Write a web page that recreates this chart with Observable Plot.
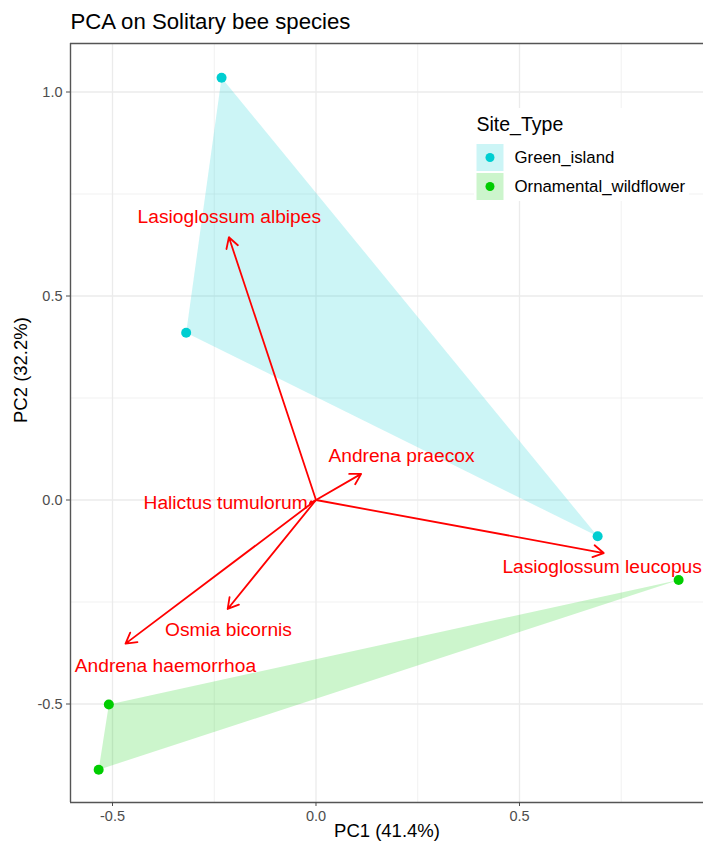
<!DOCTYPE html>
<html>
<head>
<meta charset="utf-8">
<script src="https://cdn.jsdelivr.net/npm/d3@7"></script>
<script src="https://cdn.jsdelivr.net/npm/@observablehq/plot@0.6"></script>
<style>
  html, body { margin: 0; padding: 0; background: #fff; }
  #chart { position: relative; width: 703px; height: 845px; overflow: hidden; }
  svg { font-family: "Liberation Sans", Arial, sans-serif; }
</style>
</head>
<body>
<div id="chart"></div>
<script>
// Site scores on the first two principal components
const siteTypes = ["Green_island", "Ornamental_wildflower"];
const siteColors = ["#00CED1", "#00CD00"];
const siteGroup = ["Green_island", "Green_island", "Green_island",
                   "Ornamental_wildflower", "Ornamental_wildflower", "Ornamental_wildflower"];
const sitePC1 = [-0.232, -0.319, 0.692, 0.891, -0.509, -0.534];
const sitePC2 = [1.035, 0.410, -0.089, -0.196, -0.501, -0.661];

// Species loadings (arrow tips) and where their names sit
const species = ["Lasioglossum albipes", "Andrena praecox", "Halictus tumulorum",
                 "Osmia bicornis", "Andrena haemorrhoa", "Lasioglossum leucopus"];
const loadPC1 = [-0.214, 0.111, -0.015, -0.217, -0.468, 0.707];
const loadPC2 = [0.644, 0.064, -0.008, -0.267, -0.352, -0.130];
const labelPC1 = [-0.213, 0.210, -0.222, -0.215, -0.370, 0.703];
const labelPC2 = [0.695, 0.109, -0.008, -0.317, -0.406, -0.165];

// Axis ticks and gridlines
const xMajor = [-0.5, 0, 0.5];
const xMinor = [-0.25, 0.25, 0.75];
const yMajor = [-0.5, 0, 0.5, 1.0];
const yMinor = [-0.25, 0.25, 0.75];

const title = "PCA on Solitary bee species";
const xTitle = "PC1 (41.4%)";
const yTitle = "PC2 (32.2%)";
const legendTitle = "Site_Type";

const sites = sitePC1.map((x, i) => ({x, y: sitePC2[i], group: siteGroup[i]}));
const loadings = species.map((name, i) => ({
  name, x: loadPC1[i], y: loadPC2[i], lx: labelPC1[i], ly: labelPC2[i]
}));

const W = 703, H = 845;
const mL = 70, mR = 0, mT = 43, mB = 43;
// one data unit spans ~407px on both axes
const xDomain = [-0.6032, 0.9521];
const yDomain = [-0.7414, 1.1189];
const fmt = d => d.toFixed(1);

const plot = Plot.plot({
  width: W, height: H,
  marginLeft: mL, marginRight: mR, marginTop: mT, marginBottom: mB,
  x: {domain: xDomain},
  y: {domain: yDomain},
  color: {domain: siteTypes, range: siteColors},
  style: {fontFamily: '"Liberation Sans", Arial, sans-serif', background: "#fff"},
  marks: [
    // panel grid
    Plot.ruleX(xMinor, {stroke: "#ebebeb", strokeWidth: 0.7}),
    Plot.ruleY(yMinor, {stroke: "#ebebeb", strokeWidth: 0.7}),
    Plot.ruleX(xMajor, {stroke: "#ebebeb", strokeWidth: 1.3}),
    Plot.ruleY(yMajor, {stroke: "#ebebeb", strokeWidth: 1.3}),
    // convex hull per site type
    Plot.hull(sites, {x: "x", y: "y", fill: "group", fillOpacity: 0.2, stroke: "none"}),
    // site points
    Plot.dot(sites, {x: "x", y: "y", fill: "group", r: 5, stroke: "none"}),
    // species loading arrows
    Plot.arrow(loadings, {
      x1: () => 0, y1: () => 0, x2: "x", y2: "y",
      stroke: "#ff0000", strokeWidth: 1.8, headLength: 10, headAngle: 60
    }),
    Plot.text(loadings, {x: "lx", y: "ly", text: "name", fill: "#ff0000", fontSize: 19.2}),
    // panel border (left, top, bottom)
    Plot.ruleX([xDomain[0]], {stroke: "#555", strokeWidth: 1.4}),
    Plot.ruleY([yDomain[0], yDomain[1]], {stroke: "#555", strokeWidth: 1.4}),
    // axes
    Plot.axisX(xMajor, {tickFormat: fmt, tickSize: 4, tickPadding: 4, fontSize: 14.5,
      color: "#4d4d4d", label: null}),
    Plot.axisY(yMajor, {tickFormat: fmt, tickSize: 4, tickPadding: 4, fontSize: 14.5,
      color: "#4d4d4d", label: null}),
    // titles
    Plot.text([xTitle], {frameAnchor: "bottom", dy: 34, fontSize: 18.5, fill: "#000"}),
    Plot.text([yTitle], {frameAnchor: "left", dx: -49.5, rotate: -90, fontSize: 18.5, fill: "#000"}),
    Plot.text([title], {frameAnchor: "top-left", dy: -15, lineAnchor: "bottom",
      textAnchor: "start", fontSize: 22.2, fill: "#000"})
  ]
});

document.getElementById("chart").appendChild(plot);

// legend placed inside the panel, top right
const svg = d3.select(plot);
const lg = svg.append("g").attr("transform", "translate(474,108)")
  .attr("text-anchor", "start");
lg.append("rect").attr("width", 215).attr("height", 93).attr("fill", "#fff");
lg.append("text").attr("x", 2.5).attr("y", 22.7).attr("font-size", 19.5).attr("fill", "#000")
  .attr("text-anchor", "start").text(legendTitle);
siteTypes.forEach((t, i) => {
  const row = lg.append("g").attr("transform", `translate(2.5,${36 + i * 29})`);
  row.append("rect").attr("width", 27).attr("height", 27)
    .attr("fill", siteColors[i]).attr("fill-opacity", 0.2);
  row.append("circle").attr("cx", 13.5).attr("cy", 13.5).attr("r", 4.5).attr("fill", siteColors[i]);
  row.append("text").attr("x", 38).attr("y", 13.5).attr("dy", "0.35em")
    .attr("text-anchor", "start").attr("font-size", 16.8).attr("fill", "#000").text(t);
});
</script>
</body>
</html>
